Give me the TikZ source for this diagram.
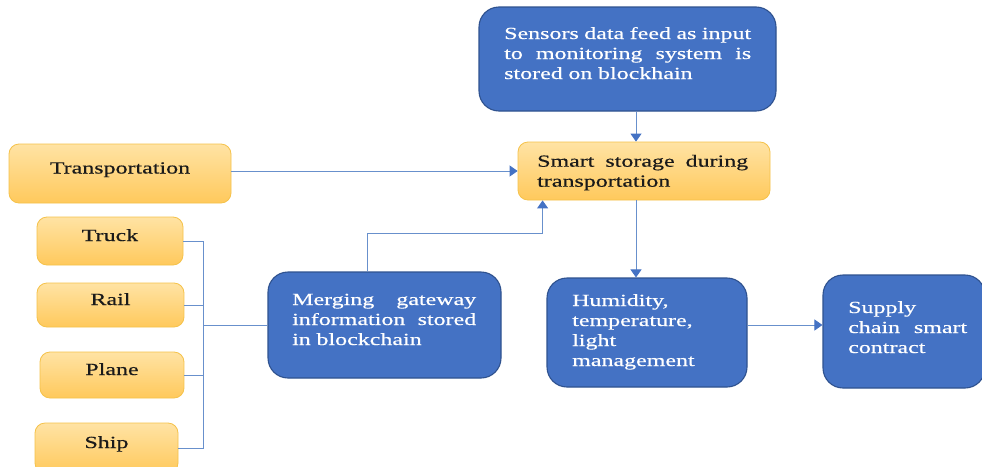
\documentclass[tikz,border=0pt]{standalone}
\usepackage{fontspec}
\setmainfont{Liberation Serif}[FakeStretch=1.41,FakeBold=0.4]
\usetikzlibrary{arrows.meta,calc}
\definecolor{bfill}{HTML}{4472C4}
\definecolor{bdraw}{HTML}{2F528F}
\definecolor{otop}{HTML}{FFE3A4}
\definecolor{obot}{HTML}{FFC95C}
\definecolor{odraw}{HTML}{F5C24A}
\definecolor{conn}{HTML}{6890CC}
\definecolor{tip}{HTML}{4472C4}
\definecolor{dtext}{HTML}{1A1A1A}
\newcommand{\jline}[2]{\leavevmode\hbox to #1{#2}}
\tikzset{
  bluebox/.style={draw=bdraw, line width=1.1pt, fill=bfill, rounded corners=20pt, inner sep=0pt},
  orangebox/.style={draw=odraw, line width=0.8pt, top color=otop, bottom color=obot, rounded corners=10pt, inner sep=0pt,
     text=dtext, font=\fontsize{17}{20}\selectfont, text height=8pt, text depth=8pt},
  wtxt/.style={inner sep=0pt, align=left, text=white, font=\fontsize{17}{20}\selectfont, anchor=base west},
  ktxt/.style={inner sep=0pt, align=left, text=dtext, font=\fontsize{17}{20}\selectfont, anchor=base west},
  arr/.style={draw=conn, line width=0.9pt, -{Triangle[length=8pt,width=11pt,fill=tip,color=tip]}},
  link/.style={draw=conn, line width=0.9pt}
}
\begin{document}
\begin{tikzpicture}[x=1pt,y=-1pt]
\useasboundingbox (0,0) rectangle (982,466);
\clip (0,0) rectangle (982,466);
\fill[white] (0,0) rectangle (982,466);

% blue boxes
\node[bluebox, minimum width=297pt, minimum height=104pt] (sensors) at (627.5,59) {};
\node[bluebox, minimum width=233pt, minimum height=106pt] (merging) at (384.5,325) {};
\node[bluebox, minimum width=200pt, minimum height=109pt] (humid) at (647,332.5) {};
\node[bluebox, minimum width=162pt, minimum height=113pt] (supply) at (904,331.5) {};

% orange boxes
\node[orangebox, minimum width=252pt, minimum height=58pt] (smart) at (644,171) {};
\node[orangebox, minimum width=222pt, minimum height=59pt] (transport) at (120,173.5) {Transportation};
\node[orangebox, minimum width=146pt, minimum height=48pt] (truck) at (110,241) {Truck};
\node[orangebox, minimum width=147pt, minimum height=44pt] (rail) at (110.5,305) {Rail};
\node[orangebox, minimum width=144pt, minimum height=46pt] (plane) at (112,375) {Plane};
\node[orangebox, minimum width=143pt, minimum height=50pt] (ship) at (106.5,448) {Ship};

% texts
\node[wtxt, text width=247pt] (sensorsT) at (504,39)
  {\jline{247pt}{Sensors\hfill data\hfill feed\hfill as\hfill input}\\
   \jline{247pt}{to\hfill monitoring\hfill system\hfill is}\\
   stored on blockhain};
\node[ktxt, text width=211pt] (smartT) at (537,166.7)
  {\jline{211pt}{Smart\hfill storage\hfill during}\\
   transportation};
\node[wtxt, text width=184pt] (mergingT) at (292,305)
  {\jline{184pt}{Merging\hfill gateway}\\
   \jline{184pt}{information\hfill stored}\\
   in blockchain};
\node[wtxt, text width=150pt] (humidT) at (572,306)
  {Humidity,\\ temperature,\\ light\\ management};
\node[wtxt, text width=119pt] (supplyT) at (848,313)
  {Supply\\
   \jline{119pt}{chain\hfill smart}\\
   contract};

% connectors
\coordinate (ax) at (636,0);
\coordinate (ay) at (0,325);
\coordinate (bx) at (203,0);
\draw[arr] (transport.east |- smart.west) -- (smart.west);
\draw[arr] (sensors.south -| ax) -- (smart.north -| ax);
\draw[arr] (smart.south -| ax) -- (humid.north -| ax);
\draw[arr] (humid.east |- ay) -- (supply.west |- ay);
\draw[arr] ($(merging.north west)+(100,0)$) |- ($(smart.south west)+(25,33)$) -- ($(smart.south west)+(25,0)$);

% bracket
\draw[link] (truck.east) -- (truck.east -| bx) -- (ship.east -| bx) -- (ship.east);
\draw[link] (rail.east) -- (rail.east -| bx);
\draw[link] (plane.east) -- (plane.east -| bx);
\draw[link] (bx |- merging.west) -- (merging.west);
\end{tikzpicture}
\end{document}
